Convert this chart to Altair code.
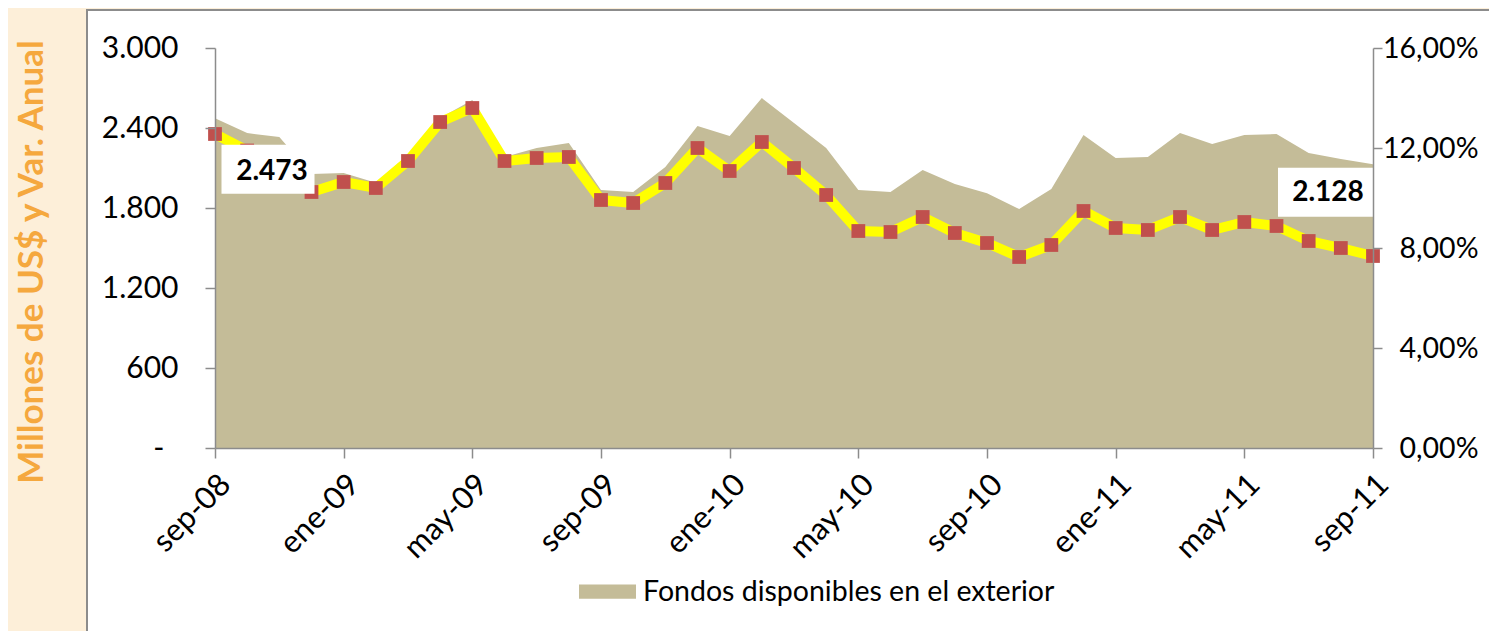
import altair as alt
import pandas as pd

meses = ["sep-08", "oct-08", "nov-08", "dic-08", "ene-09", "feb-09", "mar-09", "abr-09",
         "may-09", "jun-09", "jul-09", "ago-09", "sep-09", "oct-09", "nov-09", "dic-09",
         "ene-10", "feb-10", "mar-10", "abr-10", "may-10", "jun-10", "jul-10", "ago-10",
         "sep-10", "oct-10", "nov-10", "dic-10", "ene-11", "feb-11", "mar-11", "abr-11",
         "may-11", "jun-11", "jul-11", "ago-11", "sep-11"]
fondos = [2473, 2362, 2333, 2055, 2062, 1990, 2200, 2475, 2610, 2183, 2250, 2287,
          1935, 1920, 2108, 2415, 2340, 2625, 2437, 2250, 1935, 1920, 2085, 1980,
          1910, 1792, 1942, 2347, 2175, 2182, 2362, 2280, 2347, 2355, 2213, 2167, 2128]
var_anual = [12.56, 11.9, 11.1, 10.24, 10.64, 10.4, 11.48, 13.04, 13.6, 11.48, 11.6, 11.64,
             9.92, 9.8, 10.6, 12.0, 11.08, 12.24, 11.2, 10.12, 8.68, 8.64, 9.24, 8.6,
             8.2, 7.64, 8.12, 9.48, 8.8, 8.72, 9.24, 8.72, 9.04, 8.88, 8.28, 8.0, 7.68]
x_ticks = ["sep-08", "ene-09", "may-09", "sep-09", "ene-10", "may-10", "sep-10",
           "ene-11", "may-11", "sep-11"]
y_left_ticks = [0, 600, 1200, 1800, 2400, 3000]
y_right_ticks = [0, 4, 8, 12, 16]
serie = "Fondos disponibles en el exterior"
titulo_y = "Millones de US$ y Var. Anual"

df = pd.DataFrame({"mes": meses, "fondos": fondos, "var": var_anual, "serie": serie})

FONT = "Lato"
AXIS_GRAY = "#8c8c8c"
KHAKI = "#c4bc98"

xenc = alt.X("mes:N", sort=meses, scale=alt.Scale(type="point", padding=0),
             axis=alt.Axis(values=x_ticks, labelAngle=-45, labelAlign="right",
                           labelBaseline="top", labelFontSize=31, labelFont=FONT,
                           labelColor="#000000", labelPadding=11,
                           tickColor=AXIS_GRAY, tickSize=10, tickWidth=1.5,
                           domainColor=AXIS_GRAY, domainWidth=1.5, title=None,
                           grid=False, zindex=1))

left_scale = alt.Scale(domain=[0, 3000], nice=False)
right_scale = alt.Scale(domain=[0, 16], nice=False)

panel = alt.Chart(alt.Data(values=[{"a": 1}])).mark_rect(
    fill="white", stroke=AXIS_GRAY, strokeWidth=2
).encode(x=alt.value(-128), x2=alt.value(1400), y=alt.value(-38), y2=alt.value(650))

title = alt.Chart(alt.Data(values=[{"t": titulo_y}])).mark_text(
    angle=270, font=FONT, fontSize=35, fontWeight="bold", color="#f5a83e",
    align="center", baseline="middle"
).encode(x=alt.value(-183), y=alt.value(214), text="t:N")

area = alt.Chart(df).mark_area(opacity=1, line=False).encode(
    x=xenc,
    y=alt.Y("fondos:Q", scale=left_scale,
            axis=alt.Axis(orient="left", values=y_left_ticks, grid=False, title=None,
                          labelExpr="datum.value == 0 ? '-' : replace(format(datum.value, ','), ',', '.')",
                          labelFontSize=30, labelFont=FONT, labelColor="#000000",
                          labelPadding={"condition": {"test": "datum.value == 0", "value": 41},
                                        "value": 27},
                          tickColor=AXIS_GRAY, tickSize=10, tickWidth=1.5,
                          domainColor=AXIS_GRAY, domainWidth=1.5, zindex=1)),
    color=alt.Color("serie:N", scale=alt.Scale(domain=[serie], range=[KHAKI]),
                    legend=alt.Legend(orient="none", legendX=364, legendY=515, title=None,
                                      symbolType="M-1,-0.25H1V0.25H-1Z", symbolSize=3249,
                                      symbolStrokeWidth=0, symbolOpacity=1,
                                      labelFontSize=28.5, labelFont=FONT, labelColor="#000000",
                                      labelOffset=7, padding=0, labelLimit=0, zindex=1)),
)

line = alt.Chart(df).mark_line(color="#ffff00", strokeWidth=10, strokeJoin="miter").encode(
    x=xenc,
    y=alt.Y("var:Q", scale=right_scale,
            axis=alt.Axis(orient="right", values=y_right_ticks, grid=False, title=None,
                          labelExpr="replace(format(datum.value, '.2f'), '.', ',') + '%'",
                          labelFontSize=28.5, labelFont=FONT, labelColor="#000000",
                          labelAlign="right", labelPadding=96,
                          tickColor=AXIS_GRAY, tickSize=9, tickWidth=1.5,
                          domainColor=AXIS_GRAY, domainWidth=1.5, zindex=1)),
)

points = alt.Chart(df).mark_point(shape="square", filled=True, color="#c0504d",
                                  size=190, opacity=1).encode(
    x=xenc,
    y=alt.Y("var:Q", scale=right_scale, axis=None),
)

base_lbl = alt.Chart(df).transform_calculate(
    etiqueta="replace(format(datum.fondos, ','), ',', '.')"
)

box1 = base_lbl.transform_filter(alt.datum.mes == meses[0]).mark_rect(
    fill="white", width=93, height=49, xOffset=53, yOffset=51
).encode(x=xenc, y=alt.Y("fondos:Q", scale=left_scale, axis=None))
txt1 = base_lbl.transform_filter(alt.datum.mes == meses[0]).mark_text(
    font=FONT, fontSize=28, fontWeight="bold", color="#000000", dx=57, dy=54,
    align="center", baseline="middle"
).encode(x=xenc, y=alt.Y("fondos:Q", scale=left_scale, axis=None), text="etiqueta:N")

box2 = base_lbl.transform_filter(alt.datum.mes == meses[-1]).mark_rect(
    fill="white", width=96, height=49, xOffset=-47, yOffset=28
).encode(x=xenc, y=alt.Y("fondos:Q", scale=left_scale, axis=None))
txt2 = base_lbl.transform_filter(alt.datum.mes == meses[-1]).mark_text(
    font=FONT, fontSize=28, fontWeight="bold", color="#000000", dx=-45, dy=29,
    align="center", baseline="middle"
).encode(x=xenc, y=alt.Y("fondos:Q", scale=left_scale, axis=None), text="etiqueta:N")

chart = alt.layer(panel, title, area, line, points, box1, txt1, box2, txt2).resolve_scale(
    y="independent"
).properties(
    width=1158, height=400,
    autosize=alt.AutoSizeParams(type="none"),
    padding={"left": 207, "top": 40, "right": 116, "bottom": 183},
    background="#fdefd9",
).configure_view(stroke=None, fill=None)

chart.save("out.html", embed_options={"renderer": "svg", "actions": False})
